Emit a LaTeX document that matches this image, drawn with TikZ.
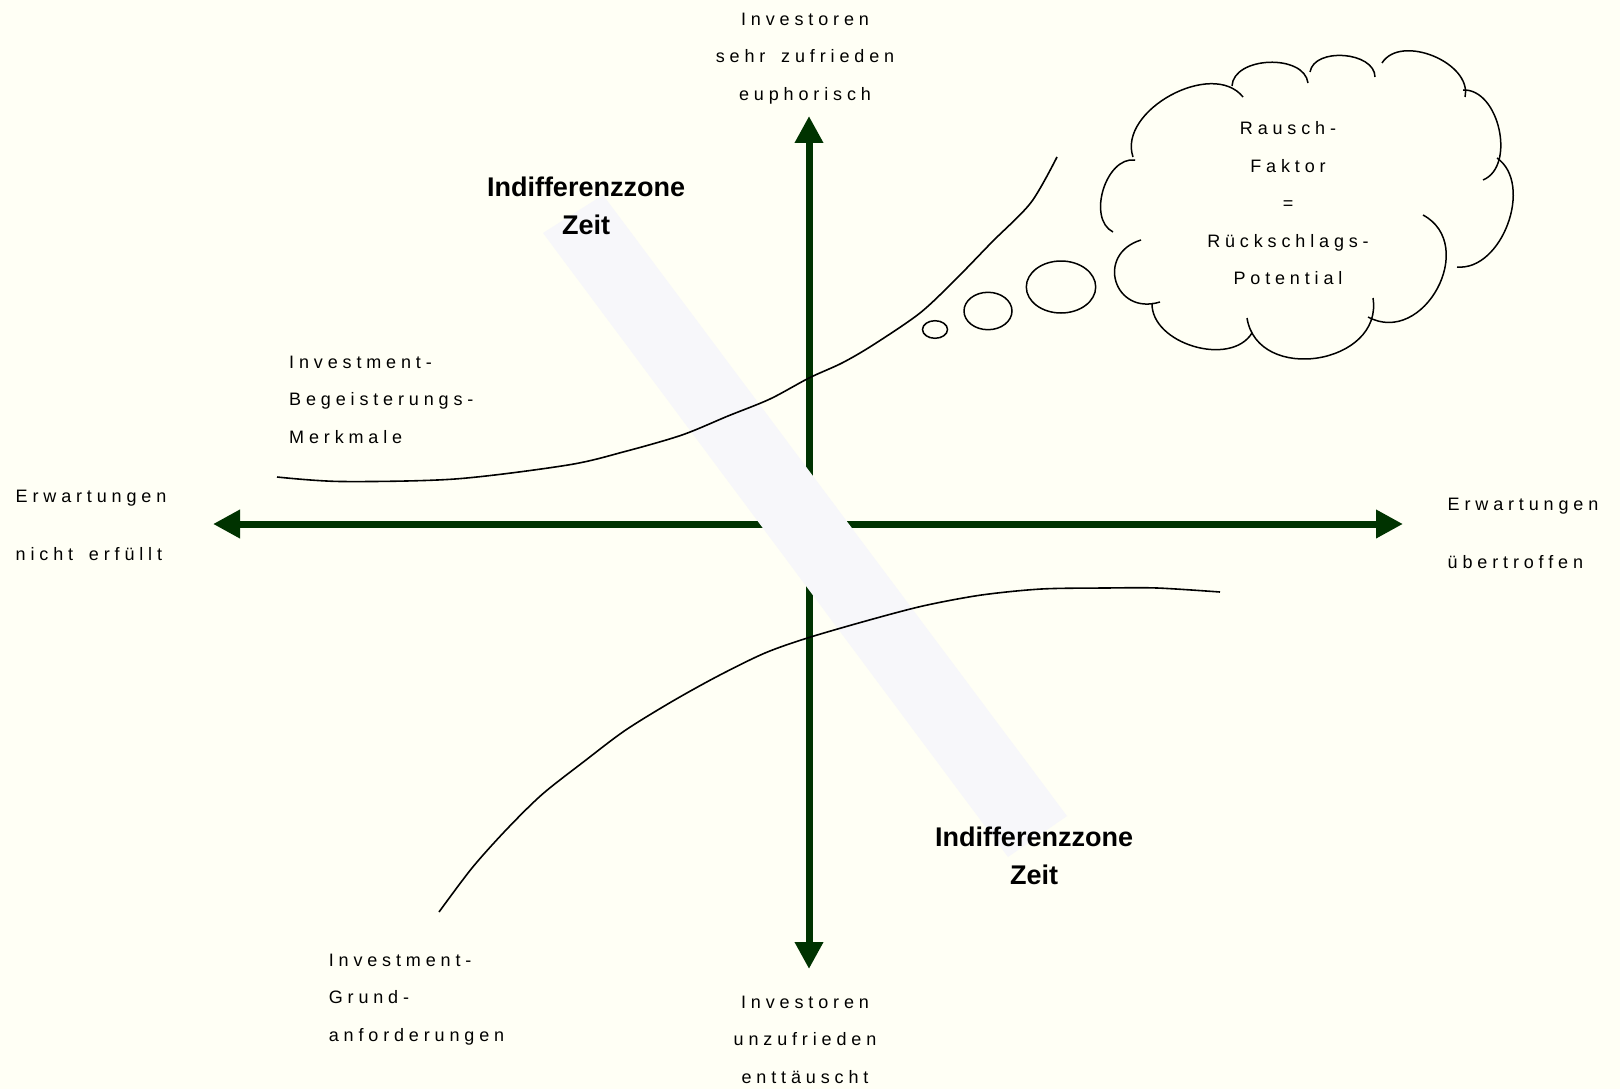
\documentclass[tikz,border=0pt]{standalone}
\usepackage{fontspec}
\setmainfont{Liberation Sans}
\newfontfamily\spacedfont[LetterSpace=27,WordSpace=1.6]{Liberation Sans}
\usetikzlibrary{arrows.meta}
\definecolor{paper}{HTML}{FFFFF5}
\definecolor{axisgreen}{HTML}{003300}
\definecolor{zoneband}{HTML}{F7F7FA}
\tikzset{
  axisarrow/.style={draw=axisgreen,line width=7pt,
    {Triangle[length=27pt,width=27pt]}-{Triangle[length=27pt,width=27pt]}},
  spaced/.style={font=\spacedfont\fontsize{18}{37.5}\selectfont,inner sep=0pt,
    align=center,anchor=north},
  spacedleft/.style={spaced,align=left,anchor=north west},
  spacedwide/.style={spacedleft,font=\spacedfont\fontsize{18}{58}\selectfont},
  zonelabel/.style={font=\bfseries\fontsize{27}{38}\selectfont,align=center,
    inner sep=0pt,anchor=north},
  curve/.style={line width=1.6pt},
  puff/.style={line width=1.5pt}
}

\begin{document}
\begin{tikzpicture}[x=1pt,y=-1pt]
  \fill[paper] (0,0) rectangle (1620,1089);
  \useasboundingbox (0,0) rectangle (1620,1089);
  % axes
  \coordinate (west) at (213,524);
  \coordinate (east) at (1403,524);
  \coordinate (north) at (809,116);
  \coordinate (south) at (809,969);
  \draw[axisarrow] (west) -- (east);
  \draw[axisarrow] (south) -- (north);
  % indifference band
  \fill[zoneband] (543,233) -- (603,195) -- (1067,816) -- (1008,857) -- cycle;
  % curves
  \draw[curve] plot[smooth] coordinates {(277,477) (341,481.5) (455,479) (568,465)
    (625,451.5) (682,435) (728,416) (770,399) (809,378) (842,363) (873,345)
    (920,313) (956,279) (992,242) (1031,202.5) (1057,157)};
  \draw[curve] plot[smooth] coordinates {(439,912) (472,868) (506,830) (542,794.5)
    (584,761.5) (625,730.5) (672,701.5) (718,676) (765,653) (809,637.5)
    (873,619) (925,605.5) (981.5,595) (1041.5,589) (1105.5,588) (1157,588) (1220,592)};
  % thought bubbles
  \draw[puff] (935,329.5) ellipse [x radius=12.5,y radius=8.8];
  \draw[puff] (988,311) ellipse [x radius=24,y radius=18.7];
  \draw[puff] (1061,287) ellipse [x radius=34.7,y radius=26];
  % cloud
  \draw[puff] (1113,232) to[bend left=80] (1135,160);
  \draw[puff] (1133,157) to[bend left=80] (1243,97);
  \draw[puff] (1232,86) to[bend left=85] (1308,83);
  \draw[puff] (1310,72) to[bend left=85] (1375,77);
  \draw[puff] (1382,63) to[bend left=80] (1465,97);
  \draw[puff] (1463,90) to[bend left=80] (1483,180);
  \draw[puff] (1497,158) to[bend left=75] (1457,267);
  \draw[puff] (1423,215) to[bend left=90,looseness=1.4] (1368,317);
  \draw[puff] (1373,298) to[bend left=90,looseness=1.35] (1247,318);
  \draw[puff] (1252,333) to[bend left=75] (1152,303);
  \draw[puff] (1160,302) to[bend left=90,looseness=1.9] (1141,240);
  % labels
  \node[spaced] (satisfied) at (805,12.5) {Investoren\\sehr zufrieden\\euphorisch};
  \node[spaced] (dissatisfied) at (805,995.5) {Investoren\\unzufrieden\\enttäuscht};
  \node[spacedwide] (missed) at (15.5,489.5) {Erwartungen\\nicht erfüllt};
  \node[spacedwide] (exceeded) at (1447.5,497.5) {Erwartungen\\übertroffen};
  \node[spacedleft] (delight) at (289,355.5) {Investment-\\Begeisterungs-\\Merkmale};
  \node[spacedleft] (basic) at (328.6,953.5) {Investment-\\Grund-\\anforderungen};
  \node[spaced] (rausch) at (1288,121.5) {Rausch-\\Faktor\\=\\Rückschlags-\\Potential};
  \node[zonelabel] (zonetop) at (586,177) {Indifferenzzone\\Zeit};
  \node[zonelabel] (zonebottom) at (1034,827) {Indifferenzzone\\Zeit};
\end{tikzpicture}
\end{document}
